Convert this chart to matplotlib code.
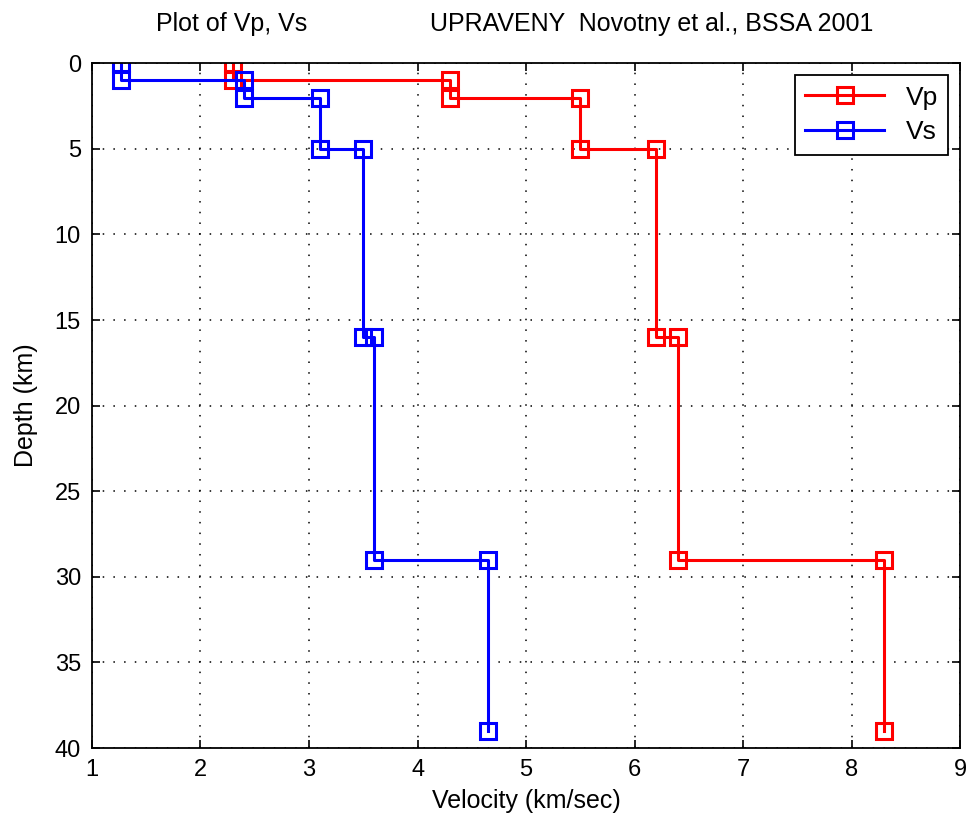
import matplotlib.pyplot as plt
import matplotlib.font_manager as fm

# velocity model: layer tops/bottoms (km) and velocities (km/s)
depth = [0, 1, 1, 2, 2, 5, 5, 16, 16, 29, 29, 39]
vp = [2.3, 2.3, 4.3, 4.3, 5.5, 5.5, 6.2, 6.2, 6.4, 6.4, 8.3, 8.3]
vs = [1.27, 1.27, 2.4, 2.4, 3.1, 3.1, 3.5, 3.5, 3.6, 3.6, 4.65, 4.65]

x_ticks = [1, 2, 3, 4, 5, 6, 7, 8, 9]
y_ticks = [0, 5, 10, 15, 20, 25, 30, 35, 40]

names = [f.name for f in fm.fontManager.ttflist]
family = ['Liberation Sans Narrow'] if 'Liberation Sans Narrow' in names else ['Liberation Sans']
plt.rcParams['font.family'] = family + ['DejaVu Sans']
plt.rcParams['font.size'] = 16

fig = plt.figure(figsize=(9.68, 8.22), dpi=100)
ax = fig.add_axes([0.095, 0.090, 0.897, 0.833])

style = dict(lw=2.2, marker='s', markersize=11.5, markerfacecolor='none', markeredgewidth=2.2)
ax.plot(vp, depth, color='#ff0000', label='Vp', **style)
ax.plot(vs, depth, color='#0000ff', label='Vs', **style)

ax.set_xlim(1, 9)
ax.set_ylim(40, 0)
ax.set_xticks(x_ticks)
ax.set_yticks(y_ticks)
ax.grid(True, color='black', linestyle=(0, (1, 6)), linewidth=1.1)
ax.tick_params(direction='in', length=6, width=1.2, top=True, right=True, pad=8, labelsize=17)
for s in ax.spines.values():
    s.set_linewidth(1.3)

ax.set_xlabel('Velocity (km/sec)', labelpad=6, fontsize=18)
ax.set_ylabel('Depth (km)', labelpad=12, fontsize=18)

# two-part title, as laid out by the original padded string
fig.text(0.239, 0.971, 'Plot of Vp, Vs', ha='center', va='center', fontsize=18)
fig.text(0.673, 0.971, 'UPRAVENY  Novotny et al., BSSA 2001', ha='center', va='center', fontsize=18)

leg = ax.legend(loc='upper right', fancybox=False, framealpha=1, edgecolor='black',
                handlelength=3, borderaxespad=0.45, fontsize=19, labelspacing=0.4)
leg.get_frame().set_linewidth(1.3)

fig.savefig('out.png', dpi=100)
